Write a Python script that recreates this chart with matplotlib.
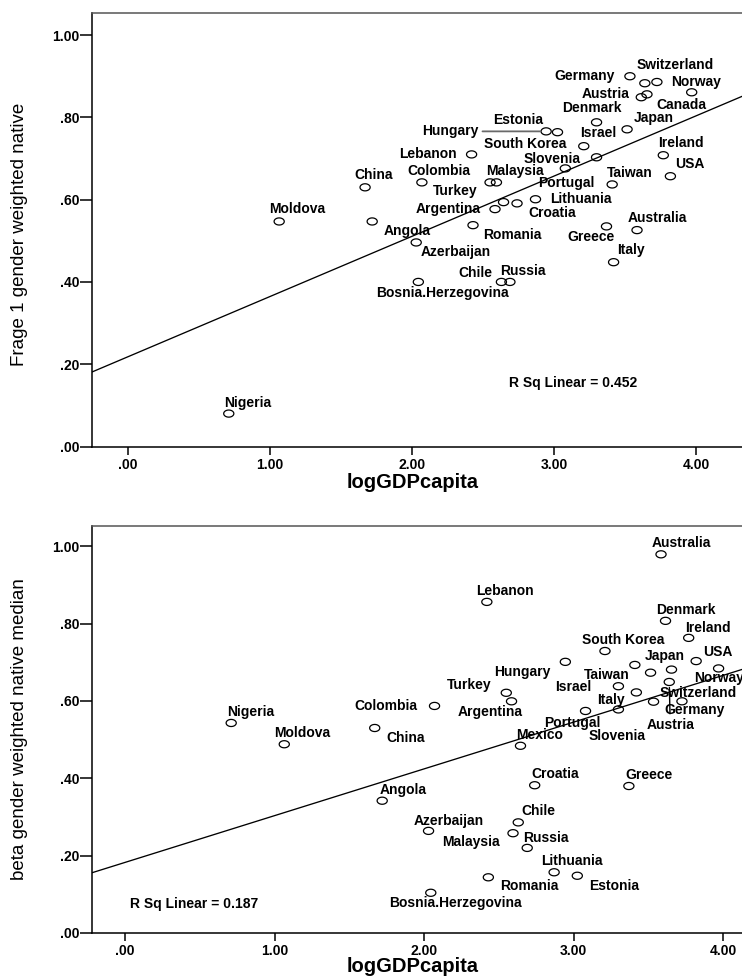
import numpy as np
import matplotlib
matplotlib.use("Agg")
import matplotlib.pyplot as plt
from matplotlib.path import Path
from matplotlib import font_manager

# values
countries = ["Norway", "Canada", "Switzerland", "Austria", "Denmark", "Germany",
             "Japan", "Israel", "Slovenia", "Taiwan", "Italy", "Portugal",
             "Australia", "Ireland", "USA", "South Korea", "Greece", "Lebanon",
             "Hungary", "Estonia", "Lithuania", "Mexico", "Croatia", "Russia",
             "Chile", "Malaysia", "Argentina", "Turkey", "Romania", "Colombia",
             "Bosnia.Herzegovina", "Azerbaijan", "Angola", "China", "Moldova",
             "Nigeria"]
log_gdp = [3.97, 3.655, 3.725, 3.64, 3.615, 3.535,
           3.515, 3.30, 3.30, 3.41, 3.42, 3.08,
           3.585, 3.77, 3.82, 3.21, 3.37, 2.42,
           2.945, 3.025, 2.87, 2.645, 2.74, 2.69,
           2.63, 2.595, 2.585, 2.55, 2.43, 2.07,
           2.045, 2.03, 1.72, 1.67, 1.065,
           0.71]
frage1_native = [0.861, 0.856, 0.886, 0.883, 0.849, 0.900,
                 0.771, 0.788, 0.703, 0.637, 0.448, 0.676,
                 0.526, 0.708, 0.657, 0.730, 0.535, 0.710,
                 0.766, 0.764, 0.601, 0.594, 0.591, 0.400,
                 0.400, 0.642, 0.577, 0.642, 0.538, 0.642,
                 0.400, 0.496, 0.547, 0.630, 0.547,
                 0.080]
beta_native_median = [0.684, 0.681, 0.599, 0.649, 0.807, 0.598,
                      0.673, 0.638, 0.578, 0.693, 0.622, 0.574,
                      0.979, 0.763, 0.703, 0.729, 0.380, 0.856,
                      0.701, 0.148, 0.157, 0.484, 0.382, 0.220,
                      0.286, 0.258, 0.599, 0.621, 0.144, 0.587,
                      0.104, 0.264, 0.342, 0.530, 0.488,
                      0.543]
rsq_text = ["R Sq Linear = 0.452", "R Sq Linear = 0.187"]
y_titles = ["Frage 1 gender weighted native", "beta gender weighted native median"]
yticks = [0.0, 0.2, 0.4, 0.6, 0.8, 1.0]
xticks = [0.0, 1.0, 2.0, 3.0, 4.0]

# label placement (pixel offsets from the point, y pointing down as in the picture)
top_offsets = {
    "Norway": (4, -10), "Canada": (34, 11), "Switzerland": (18, -17), "Austria": (-39, 11),
    "Denmark": (-49, 11), "Germany": (-45, 0), "Japan": (27, -11), "Israel": (2, 11),
    "Slovenia": (-44, 2), "Taiwan": (18, -11), "Italy": (17, -12), "Portugal": (1, 15),
    "Australia": (20, -12), "Ireland": (18, -12), "USA": (19, -12), "South Korea": (-59, -2),
    "Greece": (-15, 11), "Lebanon": (-44, 0), "Hungary": (-96, 0), "Estonia": (-39, -12),
    "Lithuania": (45, 0), "Croatia": (35, 10), "Russia": (13, -11), "Chile": (-26, -9),
    "Malaysia": (18, -11), "Argentina": (-47, 0), "Turkey": (-35, 9), "Romania": (39, 10),
    "Colombia": (17, -11), "Bosnia.Herzegovina": (24, 11), "Azerbaijan": (40, 10),
    "Angola": (35, 10), "China": (9, -12), "Moldova": (18, -12), "Nigeria": (19, -11),
}
bottom_offsets = {
    "Australia": (20, -11), "Lebanon": (18, -11), "Denmark": (20, -11), "Ireland": (19, -10),
    "South Korea": (18, -11), "USA": (22, -9), "Hungary": (-43, 10), "Japan": (14, -17),
    "Norway": (0, 10), "Taiwan": (-28, 10), "Turkey": (-37, -8), "Argentina": (-21, 11),
    "Austria": (1, 43), "Israel": (-45, 1), "Switzerland": (16, -8), "Italy": (-25, 8),
    "Germany": (41, 8), "Portugal": (-13, 12), "Slovenia": (-1, 27), "Mexico": (19, -11),
    "Croatia": (20, -11), "Greece": (20, -11), "China": (31, 10), "Colombia": (-49, 0),
    "Nigeria": (19, -11), "Moldova": (18, -11), "Angola": (21, -11),
    "Bosnia.Herzegovina": (25, 10), "Chile": (20, -11), "Azerbaijan": (20, -10),
    "Malaysia": (-42, 9), "Russia": (19, -10), "Lithuania": (18, -11), "Estonia": (37, 10),
    "Romania": (41, 9),
}
leaders = [("Hungary", "#6a6a6a"), ("Austria", "black")]

try:
    font_manager.findfont("Liberation Sans Narrow", fallback_to_default=False)
    narrow = "Liberation Sans Narrow"
    ylab_size = 15
except Exception:
    narrow = "Liberation Sans"
    ylab_size = 13.5

plt.rcParams["font.family"] = ["Liberation Sans", "DejaVu Sans"]

W, H = 742, 976
fig = plt.figure(figsize=(W / 100, H / 100), dpi=100)

# flat open circle, like the SPSS markers
theta = np.linspace(0, 2 * np.pi, 61)
ring = Path(np.column_stack([np.cos(theta), 0.7 * np.sin(theta)]), closed=True)


def panel(rect, ydata, offsets, xlim, ylabel, rsq, rsq_pos, leader_name, leader_col,
          xlabel_y, ylabel_y):
    ax = fig.add_axes([rect[0] / W, 1 - rect[3] / H, (rect[2] - rect[0]) / W,
                       (rect[3] - rect[1]) / H])
    ax.set_xlim(*xlim)
    ax.set_ylim(0, 1.053)

    ax.scatter(log_gdp, ydata, marker=ring, s=7.3 ** 2, facecolors="none",
               edgecolors="black", linewidths=0.9, zorder=3)

    slope, icpt = np.polyfit(log_gdp, ydata, 1)
    xs = np.array(xlim)
    ax.plot(xs, icpt + slope * xs, color="black", lw=0.95, zorder=2)

    for name, xv, yv in zip(countries, log_gdp, ydata):
        if name not in offsets:
            continue
        dx, dy = offsets[name]
        kw = {}
        if name == leader_name:
            kw["arrowprops"] = dict(arrowstyle="-", color=leader_col,
                                    lw=1.3 if leader_col != "black" else 1.0,
                                    shrinkA=1, shrinkB=4)
        ax.annotate(name, (xv, yv), xytext=(dx, -dy), textcoords="offset pixels",
                    ha="center", va="center", fontsize=10, fontweight="bold",
                    zorder=4, **kw)

    ax.text(rsq_pos[0], rsq_pos[1], rsq, transform=ax.transAxes, ha="left",
            va="center", fontsize=10, fontweight="bold")

    ax.set_xticks(xticks)
    ax.set_xticklabels([".00" if t == 0 else f"{t:.2f}" for t in xticks])
    ax.set_yticks(yticks)
    ax.set_yticklabels([f"{t:.2f}".lstrip("0") if t < 1 else f"{t:.2f}" for t in yticks])
    for lab in ax.get_xticklabels() + ax.get_yticklabels():
        lab.set_fontweight("bold")
        lab.set_fontsize(10)
    ax.tick_params(axis="y", length=8.5, width=1.1, pad=0.5, colors="black")
    ax.tick_params(axis="x", length=5.5, width=1.1, pad=2.5, colors="black")

    ax.spines["top"].set_color("#555555")
    ax.spines["right"].set_visible(False)
    for s in ["top", "left", "bottom"]:
        ax.spines[s].set_linewidth(1.1)

    ax.set_xlabel("logGDPcapita", fontsize=14.5, fontweight="bold")
    xl_frac = (413 - rect[0]) / (rect[2] - rect[0])
    ax.xaxis.set_label_coords(xl_frac, (rect[3] - xlabel_y) / (rect[3] - rect[1]))
    ax.xaxis.label.set_va("center")

    ax.set_ylabel(ylabel, fontsize=ylab_size, family=narrow)
    ax.yaxis.set_label_coords((20 - rect[0]) / (rect[2] - rect[0]), ylabel_y)
    ax.yaxis.label.set_va("center")
    return ax


# rects in picture pixels: left, top, right, bottom
panel((92.3, 13.3, 760, 446.5), frage1_native, top_offsets, (-0.251, 4.451),
      y_titles[0], rsq_text[0], (0.624, 0.147), "Hungary", leaders[0][1], 483, 0.49)
panel((92.3, 525.7, 760, 933), beta_native_median, bottom_offsets, (-0.219, 4.247),
      y_titles[1], rsq_text[1], (0.056, 0.071), "Austria", leaders[1][1], 967, 0.5)

fig.savefig("out.png", dpi=100)
